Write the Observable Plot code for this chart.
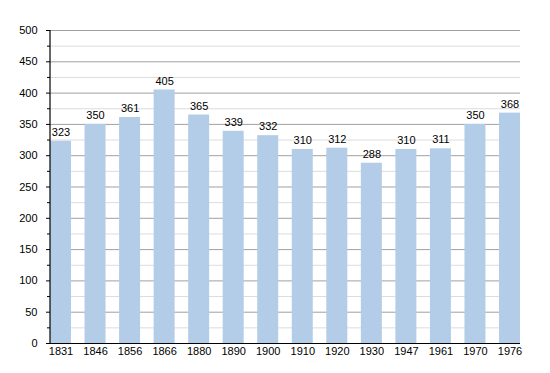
<!DOCTYPE html>
<html>
<head>
<meta charset="utf-8">
<script src="https://cdn.jsdelivr.net/npm/d3@7"></script>
<script src="https://cdn.jsdelivr.net/npm/@observablehq/plot@0.6"></script>
<style>
  html, body { margin: 0; padding: 0; background: #fff; }
  #chart { width: 550px; height: 373px; }
</style>
</head>
<body>
<div id="chart"></div>
<script>
const years = ["1831","1846","1856","1866","1880","1890","1900","1910","1920","1930","1947","1961","1970","1976"];
const population = [323, 350, 361, 405, 365, 339, 332, 310, 312, 288, 310, 311, 350, 368];
const majorTicks = [0, 50, 100, 150, 200, 250, 300, 350, 400, 450, 500];
const minorTicks = [25, 75, 125, 175, 225, 275, 325, 375, 425, 475];

const data = years.map((y, i) => ({year: y, value: population[i]}));

const chart = Plot.plot({
  width: 550,
  height: 373,
  marginLeft: 50,
  marginRight: 30,
  marginTop: 30,
  marginBottom: 30,
  style: {fontFamily: "'Liberation Sans', Arial, sans-serif", fontSize: "11px", color: "#000", background: "#fff"},
  x: {domain: years, paddingInner: 0.392, paddingOuter: 0, align: 0, round: false, label: null},
  y: {domain: [0, 500], label: null},
  marks: [
    Plot.ruleY(minorTicks, {stroke: "#dcdcdc", strokeWidth: 1, strokeOpacity: 1}),
    Plot.ruleY(majorTicks, {stroke: "#a0a0a0", strokeWidth: 1, strokeOpacity: 1}),
    Plot.barY(data, {x: "year", y: "value", fill: "#b3cde8"}),
    Plot.text(data, {x: "year", y: "value", text: d => String(d.value), dy: -9, fill: "#000", fontSize: 11}),
    Plot.axisY({ticks: minorTicks, tickSize: 3, text: null, stroke: "#000"}),
    Plot.axisY({ticks: majorTicks, tickSize: 4, tickPadding: 9, stroke: "#000", fill: "#000", label: null}),
    Plot.axisX({tickSize: 0, tickPadding: 4, fill: "#000", label: null}),
    Plot.ruleY([0], {stroke: "#000", strokeWidth: 1.2})
  ]
});

// y axis vertical line
const svg = d3.select(chart);
svg.append("line")
  .attr("x1", 50).attr("x2", 50)
  .attr("y1", 30).attr("y2", 343)
  .attr("stroke", "#000").attr("stroke-width", 1.2);

document.getElementById("chart").appendChild(chart);
</script>
</body>
</html>
